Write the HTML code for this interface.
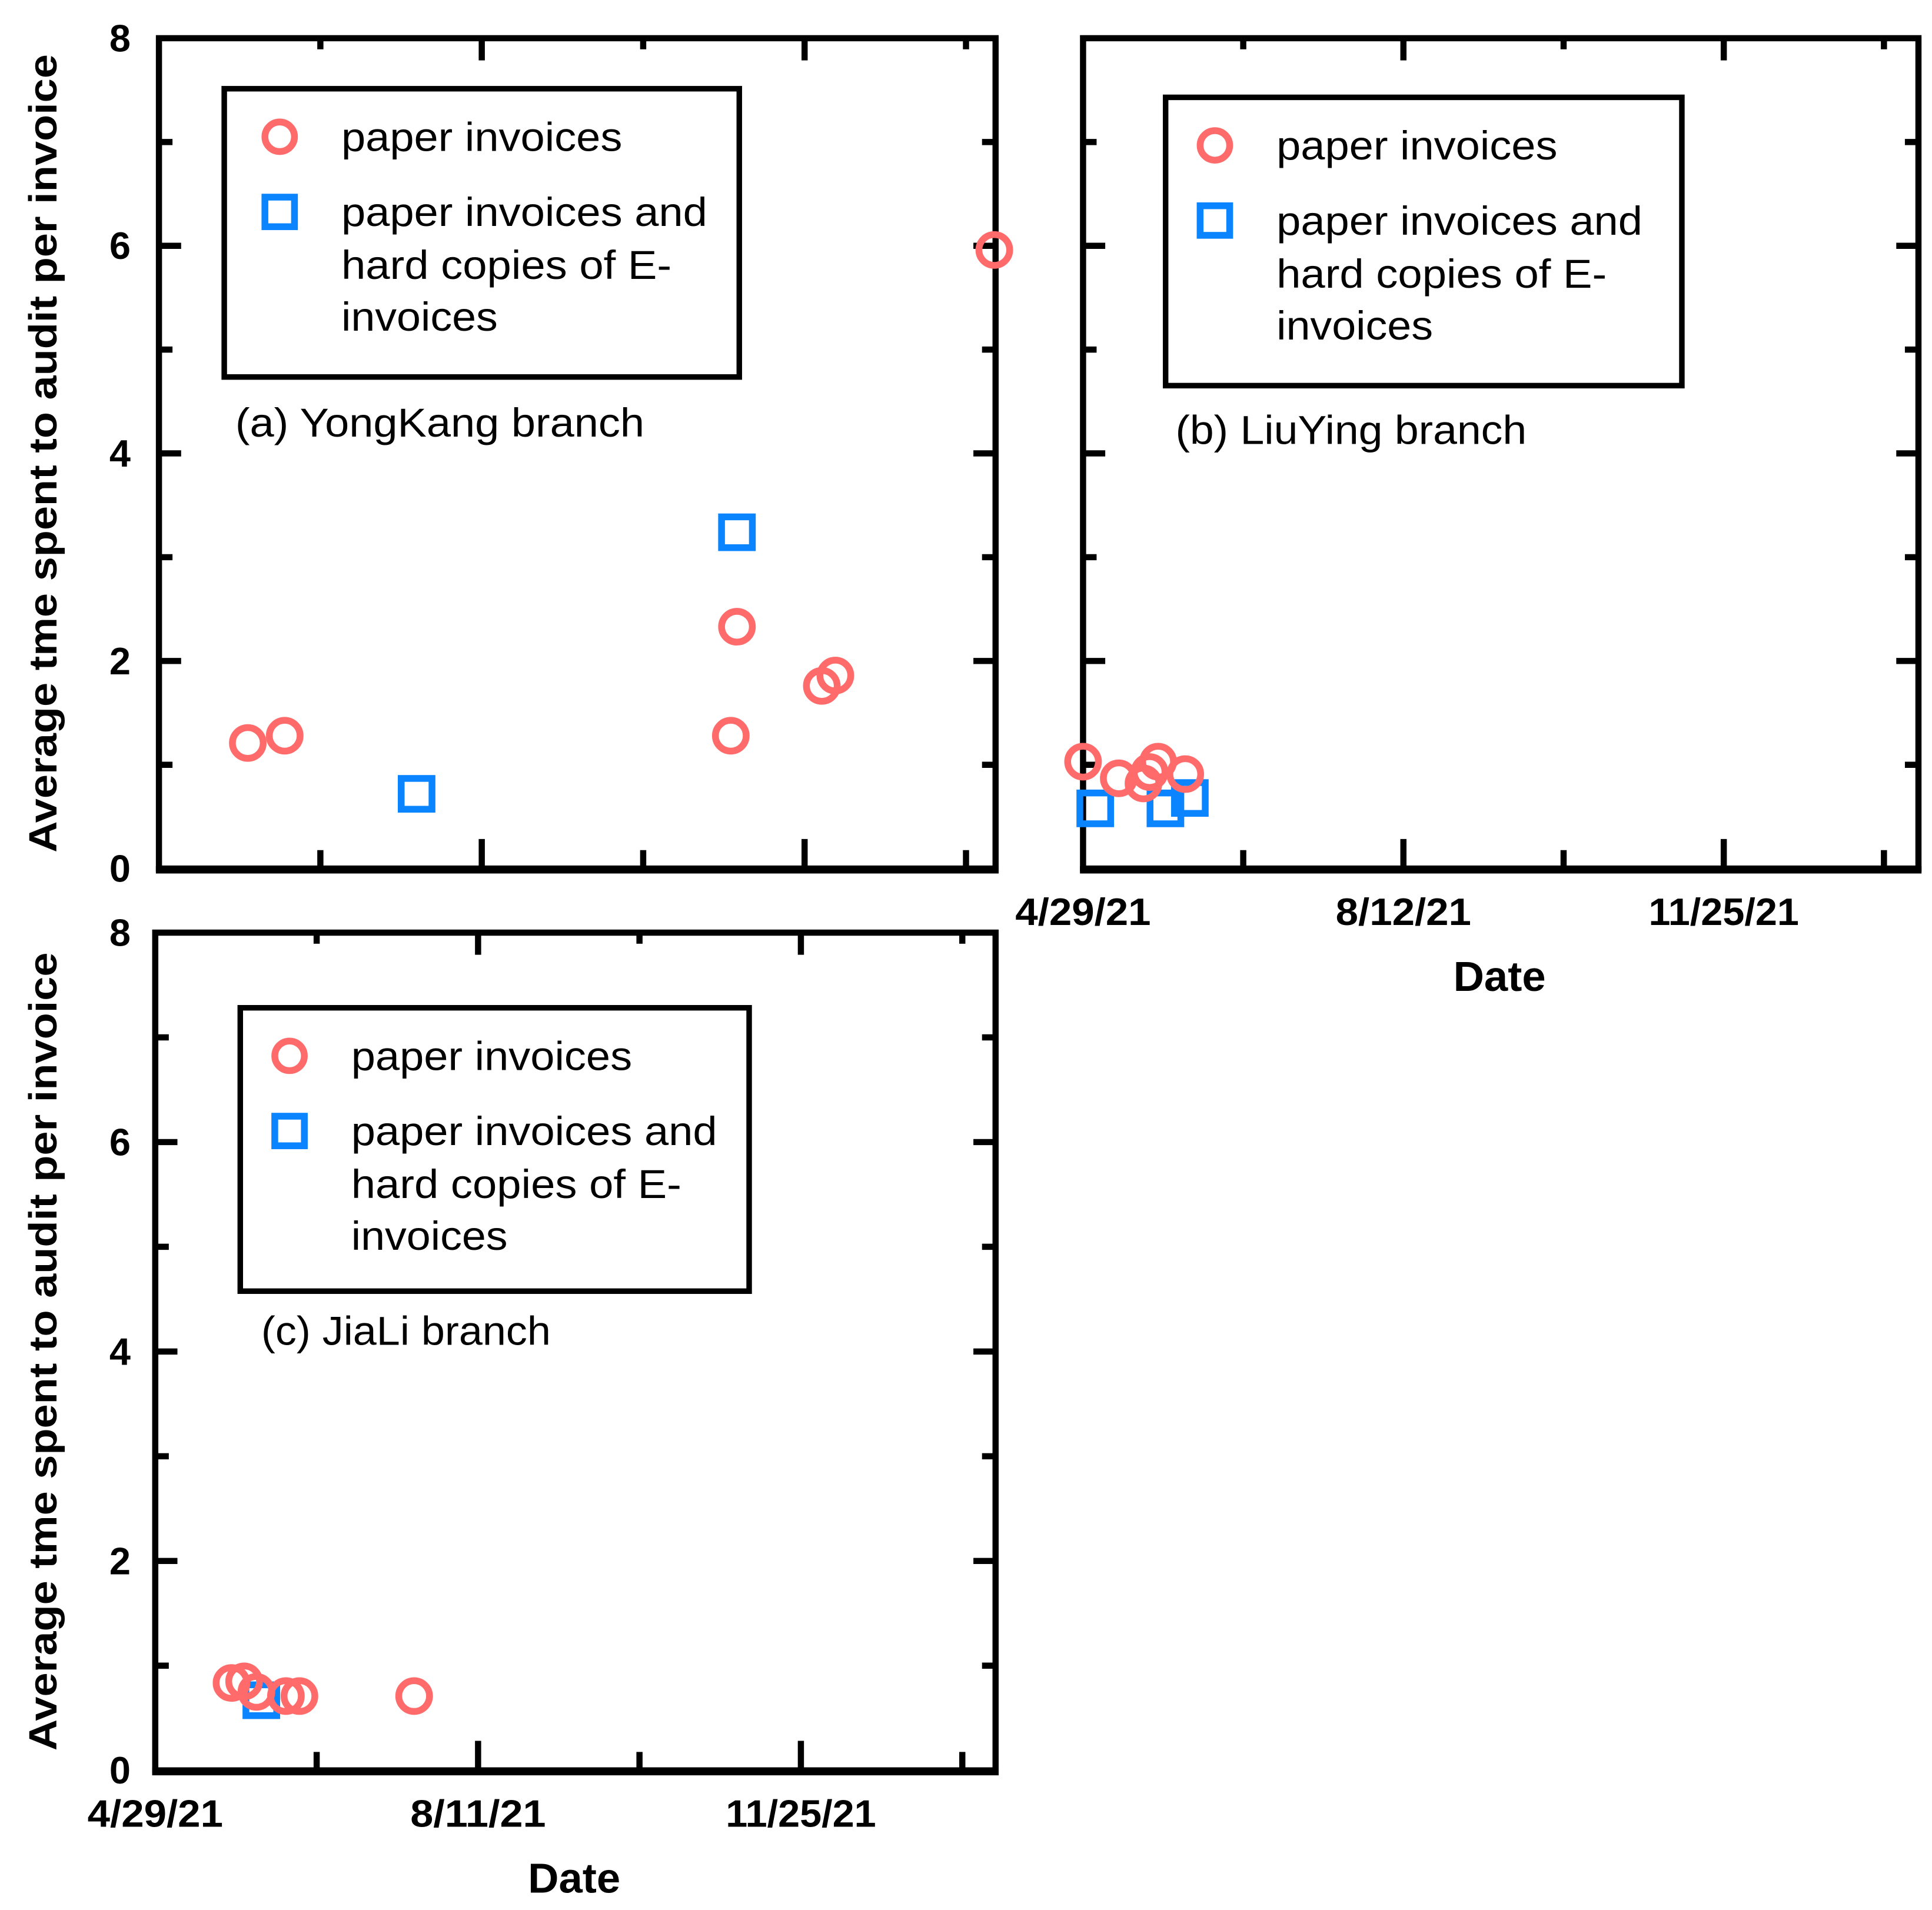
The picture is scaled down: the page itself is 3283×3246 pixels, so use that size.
<!DOCTYPE html>
<html><head><meta charset="utf-8"><style>
html,body{margin:0;padding:0;background:#fff}
svg{display:block}
text{font-family:"Liberation Sans",Arial,sans-serif}
</style></head><body>
<svg id="chart" width="3283" height="3246" viewBox="0 0 1568 1550.3" xmlns="http://www.w3.org/2000/svg"></svg>
<script>
// Data (x in days since 4/29/21, y in average time)
const yTicks = [0, 2, 4, 6, 8];
const xTickLabelsB = ["4/29/21", "8/12/21", "11/25/21"];
const xTickLabelsC = ["4/29/21", "8/11/21", "11/25/21"];
const aPaperX = [28.9, 40.9, 186, 188, 215.6, 220, 271.7];
const aPaperY = [1.21, 1.28, 1.28, 2.33, 1.76, 1.86, 5.96];
const aHardX = [83.8, 188];
const aHardY = [0.72, 3.24];
const bPaperX = [0, 11.7, 19.8, 21.8, 24.6, 33.5];
const bPaperY = [1.03, 0.87, 0.82, 0.93, 1.03, 0.91];
const bHardX = [4, 27, 35];
const bHardY = [0.58, 0.58, 0.68];
const cPaperX = [24.8, 28.9, 32.9, 42.5, 46.9, 84.2];
const cPaperY = [0.835, 0.85, 0.75, 0.71, 0.71, 0.71];
const cHardX = [34.5];
const cHardY = [0.67];

const NS = "http://www.w3.org/2000/svg";
const svg = document.getElementById("chart");
function mk(tag, attrs, parent) {
  const e = document.createElementNS(NS, tag);
  for (const k in attrs) e.setAttribute(k, attrs[k]);
  (parent || svg).appendChild(e);
  return e;
}
function txt(s, x, y, size, weight, anchor, len, parent) {
  const t = mk("text", {x: x, y: y, "font-size": size, "font-weight": weight, "text-anchor": anchor, "dominant-baseline": "central"}, parent);
  if (len) { t.setAttribute("textLength", len); t.setAttribute("lengthAdjust", "spacingAndGlyphs"); }
  t.textContent = s;
  return t;
}

function panel(p) {
  const g = mk("g", {});
  
  
  const L = p.x0, R = p.x1, T = p.y0, B = p.y1;
  const xs = d => L + d * p.pxPerDay;
  const ys = v => B - v / 8 * (B - T);
  for (let v = 1; v < 8; v += 1) {
    const y = ys(v), len = v % 2 === 0 ? 18 : 11;
    const t1 = mk("line", {x1: L, x2: L + len, y1: y, y2: y, stroke: "#000", "stroke-width": 5}, g);
    
    
    const t2 = mk("line", {x1: R, x2: R - len, y1: y, y2: y, stroke: "#000", "stroke-width": 5}, g);
    
    
  }
  for (let k = 1; k <= 5; k++) {
    const d = k * 52.5, x = xs(d);
    if (x >= R - 2) continue;
    const len = k % 2 === 0 ? 24 : 15;
    const t1 = mk("line", {x1: x, x2: x, y1: B, y2: B - len, stroke: "#000", "stroke-width": 5}, g);
    
    
    const t2 = mk("line", {x1: x, x2: x, y1: T, y2: T + len - 6, stroke: "#000", "stroke-width": 5}, g);
    
    
  }
  const fr = mk("rect", {x: L, y: T, width: R - L, height: B - T, fill: "none", stroke: "#000", "stroke-width": 5}, g);
  
  
  const bl = mk("line", {x1: L - 2.5, x2: R + 2.5, y1: B + 1, y2: B + 1, stroke: "#000", "stroke-width": 6}, g);
  
  
  if (p.yLabels) {
    yTicks.forEach(v => {
      const t = txt(String(v), 106, ys(v), 31, "bold", "end", null, g);
      
      
    });
    const yt = txt("Average tme spent to audit per invoice", 0, 0, 32, "bold", "middle", 648, g);
    yt.setAttribute("transform", "translate(35," + ((T + B) / 2) + ") rotate(-90)");
    
    
  }
  if (p.xLabels) {
    p.xLabels.forEach((s, i) => {
      const t = txt(s, xs(i * 105), B + 35, 31, "bold", "middle", s.length > 7 ? 122 : 110, g);
      
      
    });
    const dt = txt("Date", (L + R) / 2 - 1, B + 88, 34, "bold", "middle", 75, g);
    
    
  }
  const lg = p.leg;
  const lb = mk("rect", {x: lg.x, y: lg.y, width: lg.w, height: lg.h, fill: "#fff", stroke: "#000", "stroke-width": 4.5}, g);
  
  
  const lc = mk("circle", {cx: lg.mx, cy: lg.y + 39, r: 12, fill: "none", stroke: "#ff6b6b", "stroke-width": 5.5}, g);
  
  
  const ls = mk("rect", {x: lg.mx - 12, y: lg.y + 88, width: 24, height: 24, fill: "none", stroke: "#0a84ff", "stroke-width": 5.5}, g);
  
  
  const tx = lg.tx;
  const l1 = txt("paper invoices", tx, lg.y + 39, 33, "normal", "start", 228, g);
  
  
  [["paper invoices and", 297, 100], ["hard copies of E-", 268, 143], ["invoices", 127, 185]].forEach(a => {
    const t = txt(a[0], tx, lg.y + a[2], 33, "normal", "start", a[1], g);
    
    
  });
  const pl = txt(p.label, p.labelX, p.labelY, 33, "normal", "start", p.labelLen, g);
  
  
  p.hx.forEach((d, i) => {
    const s = mk("rect", {x: xs(d) - 12.5, y: ys(p.hy[i]) - 12.5, width: 25, height: 25, fill: "none", stroke: "#0a84ff", "stroke-width": 5.5}, g);
    
    
  });
  p.px.forEach((d, i) => {
    const c = mk("circle", {cx: xs(d), cy: ys(p.py[i]), r: 12.5, fill: "none", stroke: "#ff6b6b", "stroke-width": 5.5}, g);
    
    
  });
}

panel({name: "panel-a-yongkang", x0: 129, x1: 808, y0: 31, y1: 705, pxPerDay: 262 / 105, yLabels: true, xLabels: null,
  leg: {x: 182, y: 72, w: 418, h: 234, mx: 227, tx: 277}, label: "(a) YongKang branch", labelX: 191, labelY: 343, labelLen: 332,
  px: aPaperX, py: aPaperY, hx: aHardX, hy: aHardY});
panel({name: "panel-b-liuying", x0: 879, x1: 1557, y0: 31, y1: 705, pxPerDay: 260 / 105, yLabels: false, xLabels: xTickLabelsB,
  leg: {x: 946, y: 79, w: 419, h: 234, mx: 986, tx: 1036}, label: "(b) LiuYing branch", labelX: 954, labelY: 349, labelLen: 285,
  px: bPaperX, py: bPaperY, hx: bHardX, hy: bHardY});
panel({name: "panel-c-jiali", x0: 126, x1: 808, y0: 757, y1: 1437, pxPerDay: 262 / 105, yLabels: true, xLabels: xTickLabelsC,
  leg: {x: 195, y: 818, w: 413, h: 230, mx: 235, tx: 285}, label: "(c) JiaLi branch", labelX: 212, labelY: 1080, labelLen: 235,
  px: cPaperX, py: cPaperY, hx: cHardX, hy: cHardY});
</script>
</body></html>
